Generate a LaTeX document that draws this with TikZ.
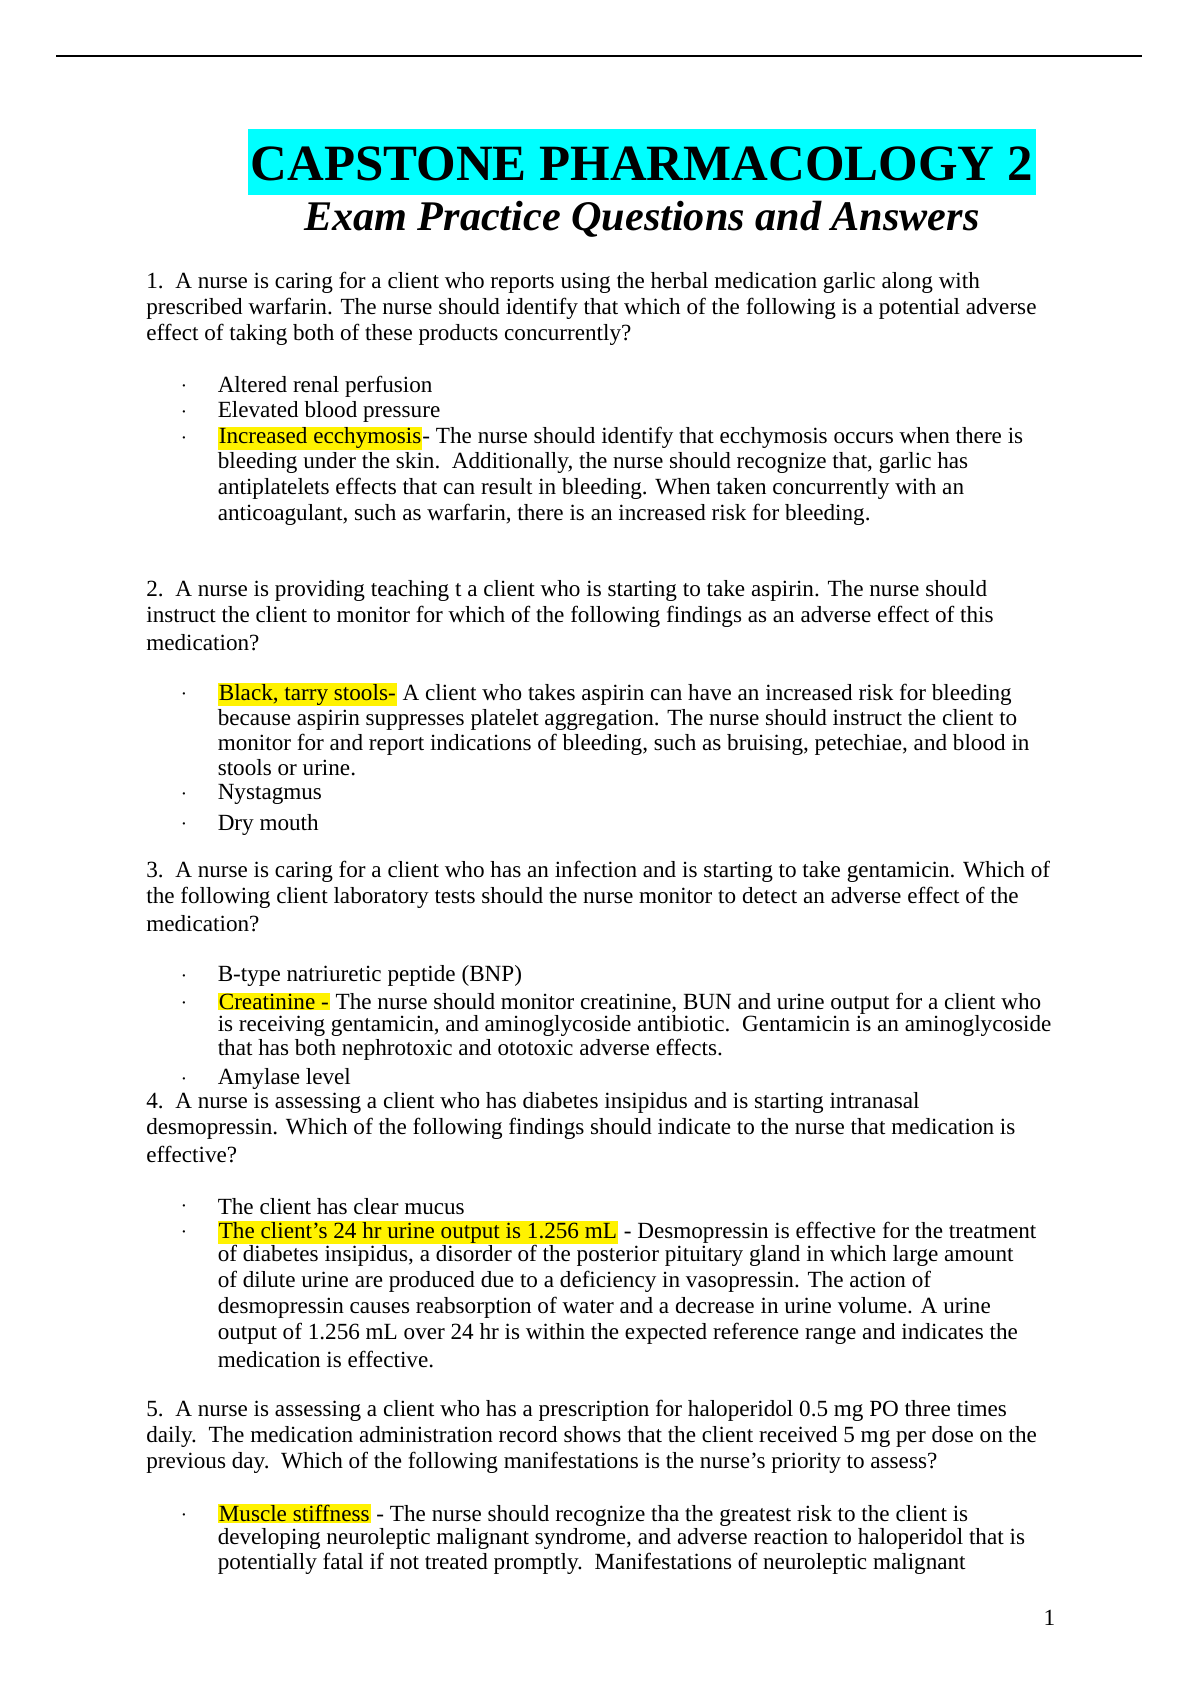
\documentclass[tikz,border=0pt]{standalone}
\usepackage{fontspec}
\setmainfont{Liberation Serif}
\usepackage{xcolor}
\definecolor{titlecyan}{RGB}{0,255,255}
\newcommand\hl[1]{{\setlength{\fboxsep}{1pt}\colorbox{yellow}{#1}}}
\newcommand\putline[4]{\node[txt] (#1) at (#2pt,-#3pt) {#4};}
\newcommand\putbul[2]{\node[bul] (#1) at (170pt,-#2pt) {$\cdot$};}
\begin{document}
\begin{tikzpicture}[x=1pt,y=1pt,
 txt/.style={anchor=west,inner sep=0pt,font=\fontsize{21.4}{24}\selectfont},
 bul/.style={inner sep=0pt,font=\fontsize{20}{24}\selectfont}]
\useasboundingbox (0,0) rectangle (1100,-1556);
\coordinate (ta) at (52,-52); \coordinate (tb) at (1055,-52);
\draw[line width=1.5pt] (ta) -- (tb);
\fill[titlecyan] (229,-119) rectangle (957,-180);
\node[inner sep=0pt,font=\fontsize{47}{50}\selectfont\bfseries] (title) at (593,-151) {CAPSTONE PHARMACOLOGY 2};
\node[inner sep=0pt,font=\fontsize{39}{42}\selectfont\bfseries\itshape] (sub) at (593,-203) {Exam Practice Questions and Answers};
\putline{a1}{135}{261}{1.\ \ A nurse is caring for a client who reports using the herbal medication garlic along with}
\putline{a2}{135}{285}{prescribed warfarin. The nurse should identify that which of the following is a potential adverse}
\putline{a3}{135}{309}{effect of taking both of these products concurrently?}
\putbul{b1}{357}\putline{a4}{201}{357}{Altered renal perfusion}
\putbul{b2}{381}\putline{a5}{201}{381}{Elevated blood pressure}
\putbul{b3}{405}\putline{a6}{201}{405}{\hl{Increased ecchymosis}- The nurse should identify that ecchymosis occurs when there is}
\putline{a7}{201}{428}{bleeding under the skin.\ \ Additionally, the nurse should recognize that, garlic has}
\putline{a8}{201}{452}{antiplatelets effects that can result in bleeding. When taken concurrently with an}
\putline{a9}{201}{476}{anticoagulant, such as warfarin, there is an increased risk for bleeding.}
\putline{c1}{135}{546}{2.\ \ A nurse is providing teaching t a client who is starting to take aspirin. The nurse should}
\putline{c2}{135}{570}{instruct the client to monitor for which of the following findings as an adverse effect of this}
\putline{c3}{135}{594}{medication?}
\putbul{b4}{642}\putline{c4}{201}{642}{\hl{Black, tarry stools-} A client who takes aspirin can have an increased risk for bleeding}
\putline{c5}{201}{665}{because aspirin suppresses platelet aggregation. The nurse should instruct the client to}
\putline{c6}{201}{688}{monitor for and report indications of bleeding, such as bruising, petechiae, and blood in}
\putline{c7}{201}{709}{stools or urine.}
\putbul{b5}{734}\putline{c8}{201}{734}{Nystagmus}
\putbul{b6}{762}\putline{c9}{201}{762}{Dry mouth}
\putline{d1}{135}{806}{3.\ \ A nurse is caring for a client who has an infection and is starting to take gentamicin. Which of}
\putline{d2}{135}{830}{the following client laboratory tests should the nurse monitor to detect an adverse effect of the}
\putline{d3}{135}{853}{medication?}
\putbul{b7}{902}\putline{d4}{201}{902}{B-type natriuretic peptide (BNP)}
\putbul{b8}{927}\putline{d5}{201}{927}{\hl{Creatinine -} The nurse should monitor creatinine, BUN and urine output for a client who}
\putline{d6}{201}{948}{is receiving gentamicin, and aminoglycoside antibiotic.\ \ Gentamicin is an aminoglycoside}
\putline{d7}{201}{970}{that has both nephrotoxic and ototoxic adverse effects.}
\putbul{b9}{997}\putline{d8}{201}{997}{Amylase level}
\putline{e1}{135}{1019}{4.\ \ A nurse is assessing a client who has diabetes insipidus and is starting intranasal}
\putline{e2}{135}{1043}{desmopressin. Which of the following findings should indicate to the nurse that medication is}
\putline{e3}{135}{1067}{effective?}
\putbul{b10}{1115}\putline{e4}{201}{1115}{The client has clear mucus}
\putbul{b11}{1139}\putline{e5}{201}{1139}{\hl{The client’s 24 hr urine output is 1.256 mL} - Desmopressin is effective for the treatment}
\putline{e6}{201}{1160}{of diabetes insipidus, a disorder of the posterior pituitary gland in which large amount}
\putline{e7}{201}{1184}{of dilute urine are produced due to a deficiency in vasopressin. The action of}
\putline{e8}{201}{1208}{desmopressin causes reabsorption of water and a decrease in urine volume. A urine}
\putline{e9}{201}{1232}{output of 1.256 mL over 24 hr is within the expected reference range and indicates the}
\putline{e10}{201}{1256}{medication is effective.}
\putline{f1}{135}{1304}{5.\ \ A nurse is assessing a client who has a prescription for haloperidol 0.5 mg PO three times}
\putline{f2}{135}{1328}{daily.\ \ The medication administration record shows that the client received 5 mg per dose on the}
\putline{f3}{135}{1352}{previous day.\ \ Which of the following manifestations is the nurse’s priority to assess?}
\putbul{b12}{1400}\putline{f4}{201}{1400}{\hl{Muscle stiffness} - The nurse should recognize tha the greatest risk to the client is}
\putline{f5}{201}{1422}{developing neuroleptic malignant syndrome, and adverse reaction to haloperidol that is}
\putline{f6}{201}{1445}{potentially fatal if not treated promptly.\ \ Manifestations of neuroleptic malignant}
\node[txt] (pg) at (964,-1495) {1};
\end{tikzpicture}
\end{document}
